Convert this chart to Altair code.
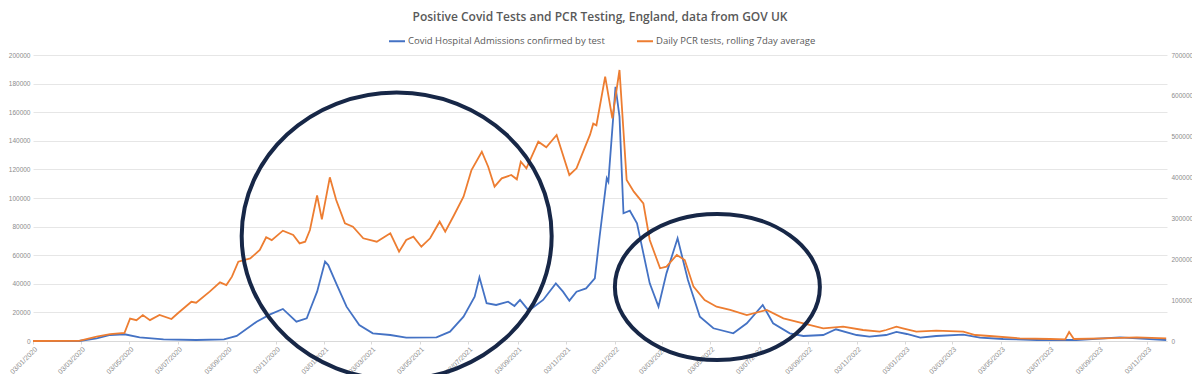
import altair as alt
import pandas as pd

BLUE_NAME = "Covid Hospital Admissions confirmed by test"
PCR_NAME = "Daily PCR tests, rolling 7day average"

blue_dates = ["2020-01-03","2020-03-01","2020-03-23","2020-04-09","2020-04-27","2020-05-16","2020-06-15","2020-07-26",
    "2020-08-30","2020-09-15","2020-10-10","2020-10-27","2020-11-12","2020-11-29","2020-12-12","2020-12-16","2020-12-25",
    "2021-01-04","2021-01-08","2021-01-18","2021-01-31","2021-02-16","2021-03-05","2021-03-27","2021-04-16","2021-05-24",
    "2021-06-10","2021-06-27","2021-07-11","2021-07-17","2021-07-26","2021-08-07","2021-08-22","2021-08-30","2021-09-06",
    "2021-09-17","2021-10-05","2021-10-21","2021-10-30","2021-11-07","2021-11-16","2021-11-28","2021-12-09","2021-12-15",
    "2021-12-24","2021-12-26","2022-01-04","2022-01-09","2022-01-14","2022-01-22","2022-01-31","2022-02-08","2022-02-16",
    "2022-02-27","2022-03-09","2022-03-23","2022-04-05","2022-04-20","2022-05-07","2022-06-01","2022-06-18","2022-07-08",
    "2022-07-21","2022-08-11","2022-08-28","2022-09-22","2022-10-08","2022-11-03","2022-11-19","2022-12-10","2022-12-23",
    "2023-01-05","2023-01-22","2023-02-11","2023-03-17","2023-04-07","2023-05-06","2023-06-18","2023-08-06","2023-09-30",
    "2023-11-27"]
blue_values = [0,0,1900,4200,4700,2600,1200,700,
    1200,3500,13500,18600,22400,13500,15900,21700,34500,
    55500,53100,40300,24000,11200,5400,4200,2300,2600,
    6500,17000,31000,44500,26400,25200,27500,24500,28700,
    21200,28700,40300,34500,28200,34500,36800,43800,72900,
    113800,111400,177800,156900,89300,91100,82300,61300,40300,
    24000,47300,71800,42700,17000,8900,5400,12400,25200,
    12400,5400,3500,4200,8200,4200,3000,4200,6300,
    4900,2300,3500,4400,2300,1400,700,700,2600,
    700]

pcr_dates = ["2020-01-03","2020-03-01","2020-03-23","2020-04-09","2020-04-27","2020-05-04","2020-05-12","2020-05-20",
    "2020-05-29","2020-06-10","2020-06-25","2020-07-03","2020-07-20","2020-07-26","2020-08-12","2020-08-25","2020-09-02",
    "2020-09-09","2020-09-17","2020-10-02","2020-10-14","2020-10-22","2020-10-29","2020-11-12","2020-11-25","2020-12-03",
    "2020-12-10","2020-12-16","2020-12-25","2020-12-31","2021-01-10","2021-01-18","2021-01-29","2021-02-08","2021-02-21",
    "2021-03-10","2021-03-27","2021-04-07","2021-04-16","2021-04-25","2021-05-05","2021-05-16","2021-05-28","2021-06-04",
    "2021-06-14","2021-06-27","2021-07-07","2021-07-20","2021-07-28","2021-08-05","2021-08-14","2021-08-26","2021-09-02",
    "2021-09-07","2021-09-14","2021-09-29","2021-10-09","2021-10-22","2021-11-07","2021-11-16","2021-11-26","2021-12-03",
    "2021-12-07","2021-12-11","2021-12-22","2021-12-31","2022-01-09","2022-01-18","2022-01-27","2022-02-08","2022-02-16",
    "2022-03-01","2022-03-09","2022-03-22","2022-04-01","2022-04-12","2022-04-26","2022-05-11","2022-05-28","2022-06-18",
    "2022-07-13","2022-08-03","2022-08-28","2022-09-22","2022-10-17","2022-11-11","2022-12-02","2022-12-10","2022-12-23",
    "2022-12-31","2023-01-17","2023-02-11","2023-03-17","2023-04-01","2023-04-19","2023-05-27","2023-07-04","2023-07-23",
    "2023-07-28","2023-08-03","2023-09-09","2023-10-21","2023-11-27"]
pcr_values = [0,500,10500,17000,20000,55000,51000,63600,
    51000,63600,53800,67800,96000,93700,120700,143600,137000,
    157400,194000,202000,222700,253800,247000,270000,259400,239000,
    243000,271700,356000,297800,400600,345000,288000,279800,251400,
    243000,263600,218600,247200,255300,230800,251400,292000,267500,
    304200,353200,418500,463300,426600,377700,398200,406300,395700,
    438800,422700,487800,474100,504200,406300,422700,471600,505000,
    532000,528000,647000,545000,663300,394000,365500,337000,247200,
    178000,181900,210500,198300,133000,100400,84000,75900,63600,
    75900,55600,43300,31100,35000,26900,22800,26900,35000,
    31100,22800,25200,22800,14700,12200,6500,4900,4100,
    22000,4900,6500,9000,6500]

left_ticks = list(range(0, 200001, 20000))
right_ticks = list(range(0, 700001, 100000))
tick_dates = [alt.DateTime(year=y, month=m, date=3, utc=True)
              for y in (2020, 2021, 2022, 2023) for m in range(1, 13)
              if not (y == 2023 and m == 12)]

# hand-drawn highlight ellipses (centre date, centre value on left axis)
ell_dates = ["2021-04-04", "2022-05-12"]
ell_values = [73400, 37800]

blue_df = pd.DataFrame({"date": blue_dates, "value": blue_values, "series": BLUE_NAME})
pcr_df = pd.DataFrame({"date": pcr_dates, "value": pcr_values, "series": PCR_NAME})
ell_df = pd.DataFrame({"date": ell_dates, "value": ell_values})

xscale = alt.Scale(type="utc", domain=[alt.DateTime(year=2020, month=1, date=3, utc=True),
                                      alt.DateTime(year=2023, month=11, date=28, utc=True)])
xaxis = alt.Axis(values=tick_dates, format="%d/%m/%Y", labelAngle=-45, labelFontSize=7,
                 labelColor="#8C8C8C", grid=False, domainColor="#D9D9D9", tickColor="#D9D9D9",
                 tickSize=3, labelPadding=1, title=None, labelOverlap=False, labelFont="Liberation Sans")
color = alt.Color("series:N", scale=alt.Scale(domain=[BLUE_NAME, PCR_NAME], range=["#4472C4", "#ED7D31"]),
                  legend=alt.Legend(orient="none", legendX=355, legendY=-23, direction="horizontal",
                                    title=None, symbolType="stroke", symbolStrokeWidth=2, symbolSize=256,
                                    labelFontSize=9.5, labelColor="#595959", columnPadding=28, labelOffset=2,
                                    labelLimit=400))

blue = alt.Chart(blue_df).mark_line(strokeWidth=1.8).encode(
    x=alt.X("date:T", scale=xscale, axis=xaxis),
    y=alt.Y("value:Q", scale=alt.Scale(domain=[0, 200000], nice=False),
            axis=alt.Axis(values=left_ticks, format="d", labelFontSize=6.5, labelColor="#8C8C8C",
                          domain=False, ticks=False, gridColor="#E6E6E6", title=None, labelPadding=3,
                          labelFont="Liberation Sans")),
    color=color,
)
pcr = alt.Chart(pcr_df).mark_line(strokeWidth=1.8).encode(
    x=alt.X("date:T", scale=xscale),
    y=alt.Y("value:Q", scale=alt.Scale(domain=[0, 700000], nice=False),
            axis=alt.Axis(orient="right", values=right_ticks, format="d", labelFontSize=6.5,
                          labelColor="#8C8C8C", domain=False, ticks=False, grid=False, title=None,
                          labelPadding=4, labelFont="Liberation Sans")),
    color=color,
)

ell_shapes = ["M-1,0 A1,0.926 0 1,1 1,0 A1,0.926 0 1,1 -1,0 Z",
              "M-1,0 A1,0.712 0 1,1 1,0 A1,0.712 0 1,1 -1,0 Z"]
ell_sizes = [310 ** 2, 205 ** 2]
ellipses = []
for i in range(2):
    ellipses.append(alt.Chart(ell_df.iloc[[i]]).mark_point(
        shape=ell_shapes[i], size=ell_sizes[i], filled=False, stroke="#172747", strokeWidth=4, opacity=1
    ).encode(
        x=alt.X("date:T", scale=xscale),
        y=alt.Y("value:Q", scale=alt.Scale(domain=[0, 200000], nice=False), axis=None),
    ))

chart = alt.layer(blue, pcr, *ellipses).resolve_scale(y="independent").properties(
    width=1134, height=286,
    title=alt.TitleParams("Positive Covid Tests and PCR Testing, England, data from GOV UK",
                          fontSize=12, font="Open Sans", fontWeight=600, color="#595959",
                          anchor="middle", offset=8),
    padding={"left": 25, "top": 47, "right": 25, "bottom": 33},
    autosize=alt.AutoSizeParams(type="none"),
).configure(font="Open Sans").configure_view(stroke=None)

chart.save("out.html", embed_options={"renderer": "svg", "actions": False})
